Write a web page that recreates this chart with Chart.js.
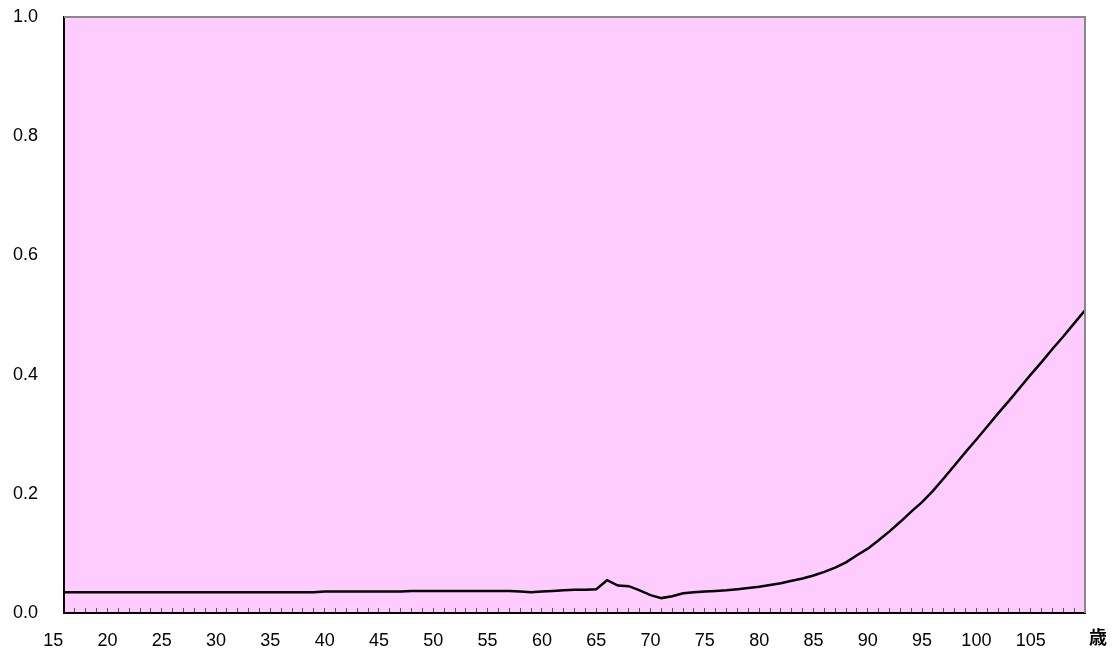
<!DOCTYPE html>
<html lang="ja">
<head>
    <meta charset="UTF-8">
    <title>年齢別</title>
    <script src="https://cdn.jsdelivr.net/npm/chart.js"></script>
    <style>
        body { margin: 0; background: #fff; }
        #wrap { width: 1118px; height: 655px; position: relative; }
    </style>
</head>
<body>
<div id="wrap"><canvas id="chart"></canvas></div>
<script>
    // ages on the x axis (one point per year)
    const ages = [
        16, 17, 18, 19, 20, 21, 22, 23, 24, 25, 26, 27, 28, 29, 30, 31, 32, 33, 34, 35,
        36, 37, 38, 39, 40, 41, 42, 43, 44, 45, 46, 47, 48, 49, 50, 51, 52, 53, 54, 55,
        56, 57, 58, 59, 60, 61, 62, 63, 64, 65, 66, 67, 68, 69, 70, 71, 72, 73, 74, 75,
        76, 77, 78, 79, 80, 81, 82, 83, 84, 85, 86, 87, 88, 89, 90, 91, 92, 93, 94, 95,
        96, 97, 98, 99, 100, 101, 102, 103, 104, 105, 106, 107, 108, 109, 110
    ];
    const values = [
        0.035, 0.035, 0.035, 0.035, 0.035, 0.035, 0.035, 0.035, 0.035, 0.035, 0.035, 0.035,
        0.035, 0.035, 0.035, 0.035, 0.035, 0.035, 0.035, 0.035, 0.035, 0.035, 0.035, 0.035,
        0.036, 0.036, 0.036, 0.036, 0.036, 0.036, 0.036, 0.036,
        0.037, 0.037, 0.037, 0.037, 0.037, 0.037, 0.037, 0.037, 0.037, 0.037,
        0.036, 0.035, 0.036, 0.037, 0.038, 0.039, 0.039, 0.040,
        0.055, 0.046, 0.045, 0.038, 0.030, 0.025, 0.028, 0.033, 0.035,
        0.036, 0.037, 0.038, 0.040, 0.042, 0.044, 0.047, 0.050, 0.054, 0.058,
        0.063, 0.069, 0.076, 0.085, 0.097, 0.108, 0.122, 0.137, 0.153, 0.170,
        0.186, 0.205, 0.226, 0.248, 0.270, 0.291, 0.313, 0.335, 0.356, 0.378,
        0.400, 0.421, 0.443, 0.464, 0.486, 0.508
    ];
    // labelled ages under the axis
    const labelAges = [15, 20, 25, 30, 35, 40, 45, 50, 55, 60, 65, 70, 75, 80, 85, 90, 95, 100, 105];
    const unitLabel = '歳';

    Chart.defaults.font.family = '"Liberation Sans", Arial, sans-serif';
    Chart.defaults.font.size = 18;
    Chart.defaults.color = '#000';

    // pink plot area with grey top/right frame
    const plotArea = {
        id: 'plotArea',
        beforeDraw(chart) {
            const { ctx, chartArea: a } = chart;
            ctx.save();
            ctx.fillStyle = '#FFCCFF';
            ctx.fillRect(a.left, a.top, a.right - a.left, a.bottom - a.top);
            ctx.restore();
        },
        afterDraw(chart) {
            const { ctx, chartArea: a } = chart;
            ctx.save();
            ctx.strokeStyle = '#888';
            ctx.lineWidth = 2;
            ctx.beginPath();
            ctx.moveTo(a.left, a.top);
            ctx.lineTo(a.right, a.top);
            ctx.lineTo(a.right, a.bottom);
            ctx.stroke();
            // unit after the last label
            ctx.fillStyle = '#000';
            ctx.font = 'bold 18px "Noto Sans CJK JP"';
            ctx.textAlign = 'center';
            ctx.textBaseline = 'middle';
            ctx.fillText(unitLabel, a.right + 13, a.bottom + 24);
            ctx.restore();
        }
    };

    const minAge = ages[0];
    const maxAge = ages[ages.length - 1];

    new Chart(document.getElementById('chart'), {
        type: 'line',
        data: {
            datasets: [{
                data: ages.map((a, i) => ({ x: a, y: values[i] })),
                borderColor: '#000',
                borderWidth: 2.5,
                pointRadius: 0,
                tension: 0
            }]
        },
        options: {
            responsive: true,
            maintainAspectRatio: false,
            animation: false,
            layout: { padding: { top: 17, right: 33, bottom: 0, left: 0 } },
            plugins: { legend: { display: false }, tooltip: { enabled: false } },
            scales: {
                x: {
                    type: 'linear',
                    min: minAge,
                    max: maxAge,
                    afterBuildTicks(scale) {
                        const t = [];
                        for (let v = labelAges[0]; v <= maxAge; v++) t.push({ value: v });
                        scale.ticks = t;
                    },
                    afterFit(scale) { scale.height = 42; },
                    ticks: {
                        autoSkip: false,
                        maxRotation: 0,
                        padding: 22,
                        callback: (v) => labelAges.includes(v) ? String(v) : ''
                    },
                    grid: {
                        drawOnChartArea: false,
                        tickLength: -5,
                        lineWidth: 1,
                        color: (c) => (c.tick && c.tick.value < minAge) ? 'rgba(0,0,0,0)' : '#555'
                    },
                    border: { color: '#000', width: 2 }
                },
                y: {
                    min: 0,
                    max: 1,
                    afterFit(scale) {
                        scale.width = 64;
                        scale.paddingTop = 10;
                        scale.paddingBottom = 10;
                    },
                    ticks: {
                        stepSize: 0.2,
                        padding: 26,
                        callback: (v) => v.toFixed(1)
                    },
                    grid: { display: false, drawTicks: false },
                    border: { color: '#000', width: 2 }
                }
            }
        },
        plugins: [plotArea]
    });
</script>
</body>
</html>
